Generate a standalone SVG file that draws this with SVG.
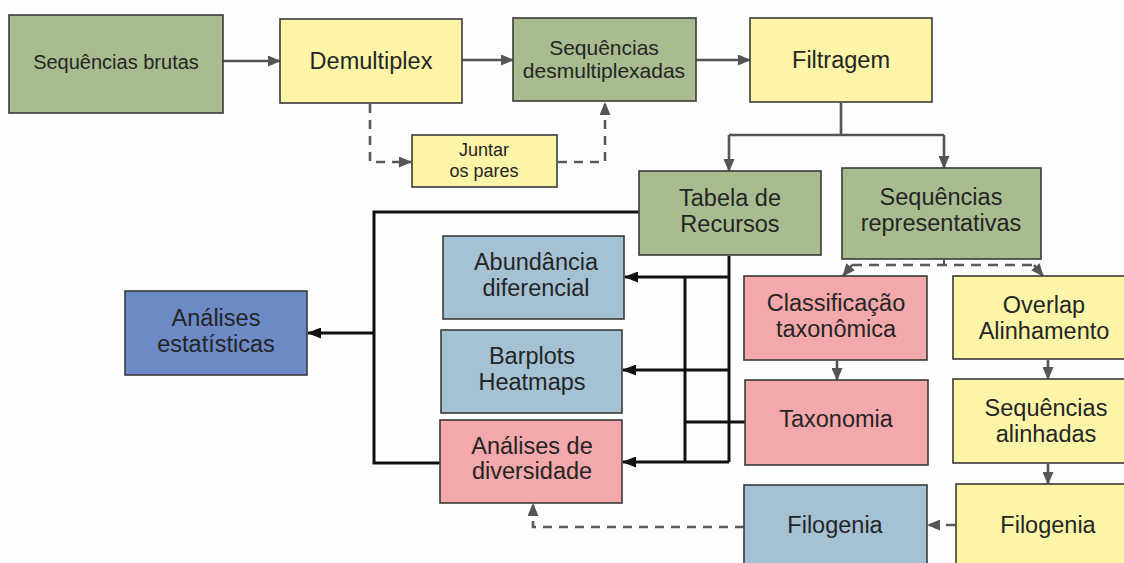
<svg xmlns="http://www.w3.org/2000/svg" width="1124" height="563" viewBox="0 0 1124 563">
  <defs>
    <marker id="ah-gray" markerUnits="userSpaceOnUse" markerWidth="13" markerHeight="11" refX="12" refY="5.5" orient="auto">
      <path d="M0,0 L13,5.5 L0,11 z" fill="#555"/>
    </marker>
    <marker id="ah-black" markerUnits="userSpaceOnUse" markerWidth="14" markerHeight="11" refX="13" refY="5.5" orient="auto">
      <path d="M0,0 L14,5.5 L0,11 z" fill="#111"/>
    </marker>
    <style>
      .box { stroke: #3a3a3a; stroke-width: 1.6; }
      .green { fill: #a9bc90; }
      .yellow { fill: #fcf5a8; }
      .pink { fill: #f3a8ab; }
      .lblue { fill: #a4c2d3; }
      .dblue { fill: #6b8ac6; }
      text { font-family: "Liberation Sans", Arial, sans-serif; fill: #252525; text-anchor: middle; }
      .t24 { font-size: 23.5px; }
      .t21 { font-size: 21px; }
      .t20 { font-size: 20px; }
      .t18 { font-size: 18px; }
      .gray { fill: none; stroke: #555; stroke-width: 2.6; }
      .dash { fill: none; stroke: #5a5a5a; stroke-width: 2.6; stroke-dasharray: 9 7; }
      .blk { fill: none; stroke: #111; stroke-width: 3; }
    </style>
  </defs>

  <rect width="1124" height="563" fill="#fdfdfd"/>

  <!-- connectors -->
  <g id="connectors">
    <!-- top pipeline -->
    <path class="gray" d="M223,61 H280" marker-end="url(#ah-gray)"/>
    <path class="gray" d="M462,60 H513" marker-end="url(#ah-gray)"/>
    <path class="gray" d="M696,60 H750" marker-end="url(#ah-gray)"/>
    <!-- pair merging side path -->
    <path class="dash" d="M370,104 V162 H411" marker-end="url(#ah-gray)"/>
    <path class="dash" d="M558,162 H605 V103" marker-end="url(#ah-gray)"/>
    <!-- filtering fork -->
    <path class="gray" d="M841,103 V135"/>
    <path class="gray" d="M729,135 H944"/>
    <path class="gray" d="M729,135 V171" marker-end="url(#ah-gray)"/>
    <path class="gray" d="M944,135 V168" marker-end="url(#ah-gray)"/>
    <!-- representative sequences split -->
    <path class="gray" d="M944,260 V266" style="stroke-width:2"/>
    <path class="dash" d="M852,265 H1034" style="stroke-dasharray:10 7"/>
    <path class="gray" d="M852,265 L843,276" marker-end="url(#ah-gray)"/>
    <path class="gray" d="M1034,265 L1043,276" marker-end="url(#ah-gray)"/>
    <!-- right columns -->
    <path class="gray" d="M837,361 V380" marker-end="url(#ah-gray)"/>
    <path class="gray" d="M1048,360 V379" marker-end="url(#ah-gray)"/>
    <path class="gray" d="M1048,464 V484" marker-end="url(#ah-gray)"/>
    <path class="dash" d="M955,525 H928" marker-end="url(#ah-gray)"/>
    <path class="dash" d="M744,527 H533 V504" marker-end="url(#ah-gray)"/>
    <!-- feature table fan-out -->
    <path class="blk" d="M639,212 H374 V463 H440"/>
    <path class="blk" d="M374,333 H308" marker-end="url(#ah-black)"/>
    <path class="blk" d="M729,256 V462"/>
    <path class="blk" d="M685,277 V462"/>
    <path class="blk" d="M745,422 H685"/>
    <path class="blk" d="M729,277 H625" marker-end="url(#ah-black)"/>
    <path class="blk" d="M729,370 H623" marker-end="url(#ah-black)"/>
    <path class="blk" d="M729,462 H623" marker-end="url(#ah-black)"/>
  </g>

  <!-- nodes -->
  <g id="seq-brutas">
    <rect class="box green" x="9" y="15" width="214" height="98"/>
    <text class="t20" x="116" y="69">Sequências brutas</text>
  </g>
  <g id="demultiplex">
    <rect class="box yellow" x="280" y="19" width="182" height="84"/>
    <text class="t24" x="371" y="69">Demultiplex</text>
  </g>
  <g id="seq-desmultiplexadas">
    <rect class="box green" x="513" y="18" width="183" height="83"/>
    <text class="t21" x="604" y="55">Sequências</text>
    <text class="t21" x="604" y="78">desmultiplexadas</text>
  </g>
  <g id="filtragem">
    <rect class="box yellow" x="750" y="18" width="182" height="84"/>
    <text class="t24" x="841" y="68">Filtragem</text>
  </g>
  <g id="juntar-pares">
    <rect class="box yellow" x="412" y="135" width="145" height="52"/>
    <text class="t18" x="484" y="156">Juntar</text>
    <text class="t18" x="484" y="177">os pares</text>
  </g>
  <g id="tabela-recursos">
    <rect class="box green" x="639" y="171" width="182" height="84"/>
    <text class="t24" x="730" y="206">Tabela de</text>
    <text class="t24" x="730" y="232">Recursos</text>
  </g>
  <g id="seq-representativas">
    <rect class="box green" x="842" y="168" width="199" height="91"/>
    <text class="t24" x="941" y="205">Sequências</text>
    <text class="t24" x="941" y="231">representativas</text>
  </g>
  <g id="abundancia">
    <rect class="box lblue" x="443" y="236" width="181" height="83"/>
    <text class="t24" x="536" y="270">Abundância</text>
    <text class="t24" x="536" y="296">diferencial</text>
  </g>
  <g id="analises-estatisticas">
    <rect class="box dblue" x="125" y="291" width="182" height="84"/>
    <text class="t24" x="216" y="326">Análises</text>
    <text class="t24" x="216" y="352">estatísticas</text>
  </g>
  <g id="barplots">
    <rect class="box lblue" x="441" y="330" width="181" height="83"/>
    <text class="t24" x="532" y="364">Barplots</text>
    <text class="t24" x="532" y="390">Heatmaps</text>
  </g>
  <g id="diversidade">
    <rect class="box pink" x="440" y="420" width="182" height="83"/>
    <text class="t24" x="532" y="454">Análises de</text>
    <text class="t24" x="532" y="479">diversidade</text>
  </g>
  <g id="classificacao">
    <rect class="box pink" x="744" y="276" width="183" height="84"/>
    <text class="t24" x="836" y="311">Classificação</text>
    <text class="t24" x="836" y="337">taxonômica</text>
  </g>
  <g id="overlap">
    <rect class="box yellow" x="953" y="276" width="182" height="83"/>
    <text class="t24" x="1044" y="313">Overlap</text>
    <text class="t24" x="1044" y="339">Alinhamento</text>
  </g>
  <g id="taxonomia">
    <rect class="box pink" x="745" y="380" width="183" height="85"/>
    <text class="t24" x="836" y="427">Taxonomia</text>
  </g>
  <g id="seq-alinhadas">
    <rect class="box yellow" x="953" y="379" width="182" height="84"/>
    <text class="t24" x="1046" y="416">Sequências</text>
    <text class="t24" x="1046" y="442">alinhadas</text>
  </g>
  <g id="filogenia-arvore">
    <rect class="box lblue" x="744" y="485" width="183" height="84"/>
    <text class="t24" x="835" y="533">Filogenia</text>
  </g>
  <g id="filogenia-calculo">
    <rect class="box yellow" x="956" y="484" width="184" height="85"/>
    <text class="t24" x="1048" y="533">Filogenia</text>
  </g>
</svg>
